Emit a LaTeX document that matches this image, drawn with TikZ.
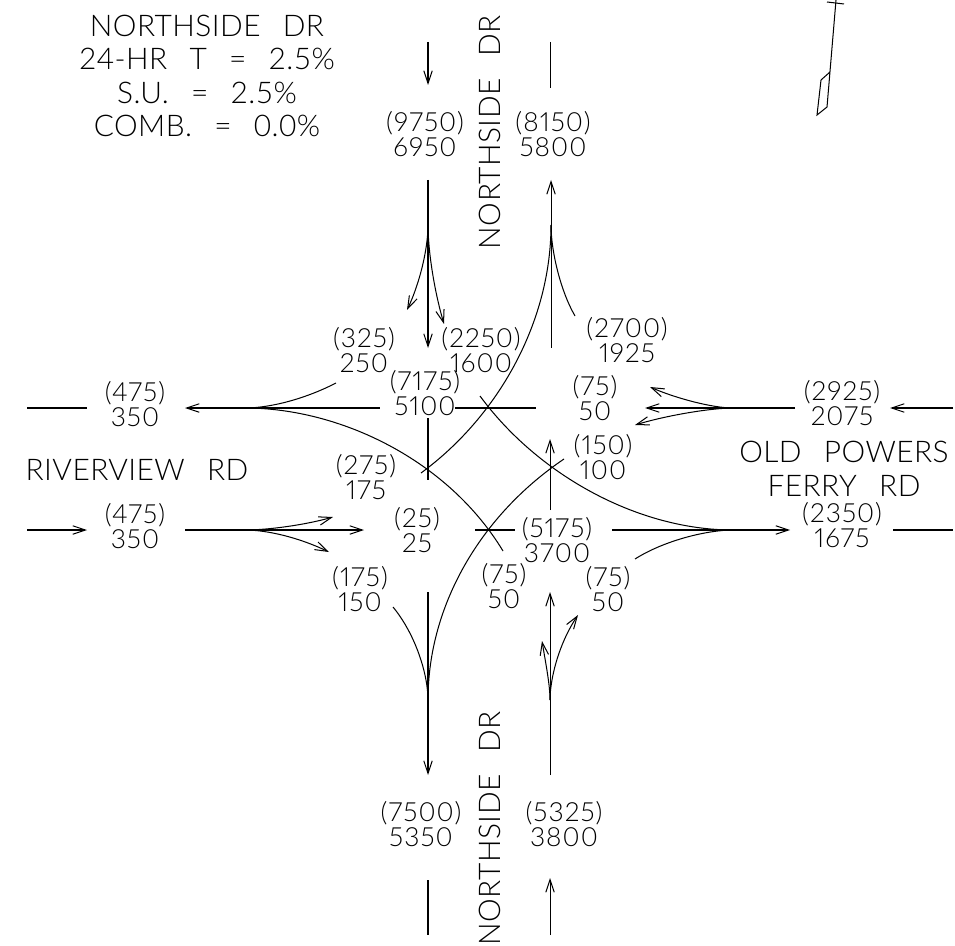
\documentclass[tikz,border=0pt]{standalone}
\usepackage{fontspec}
\setmainfont{Lato Light}
\newfontfamily\volfont[LetterSpace=4,Numbers=Proportional]{Lato Light}
\newfontfamily\lblfont[LetterSpace=1.5,WordSpace=2.6]{Lato Light}
\usetikzlibrary{arrows.meta}

\begin{document}
\begin{tikzpicture}[
  x=0.02cm, y=-0.02cm,
  >={Straight Barb[length=7.2pt,width=4.8pt]},
  road/.style={line width=0.58pt, color=black},
  vol/.style={align=center, inner sep=0pt, font=\volfont\fontsize{15}{14.2}\selectfont},
  lbl/.style={align=center, inner sep=0pt, font=\lblfont\fontsize{17}{19}\selectfont},
]
\useasboundingbox (0,0) rectangle (955,945);

\node[lbl] (note) at (207,76) {NORTHSIDE DR\\24-HR T = 2.5\%\\S.U. = 2.5\%\\COMB. = 0.0\%};
\node[lbl, rotate=90] (nsdrtop) at (490,132) {NORTHSIDE DR};
\node[lbl, rotate=90] (nsdrbot) at (490,828) {NORTHSIDE DR};
\node[lbl] (river) at (137,470) {RIVERVIEW RD};
\node[lbl] (old) at (844,469) {OLD POWERS\\FERRY RD};

\node[vol] (sbin) at (425,134) {(9750)\\6950};
\node[vol] (nbout) at (553,134) {(8150)\\5800};
\node[vol] (sbr) at (364,350) {(325)\\250};
\node[vol] (sbl) at (481,350) {(2250)\\1600};
\node[vol] (sbt) at (425,393) {(7175)\\5100};
\node[vol] (wbr) at (627,340) {(2700)\\1925};
\node[vol] (wbt) at (595,398) {(75)\\50};
\node[vol] (wbl) at (603,457) {(150)\\100};
\node[vol] (wbin) at (842,403) {(2925)\\2075};
\node[vol] (wout) at (135,404) {(475)\\350};
\node[vol] (ebin) at (135,526) {(475)\\350};
\node[vol] (ebl) at (366,477) {(275)\\175};
\node[vol] (ebt) at (417,530) {(25)\\25};
\node[vol] (ebr) at (360,589) {(175)\\150};
\node[vol] (nbt) at (557,540) {(5175)\\3700};
\node[vol] (nbl) at (504,586) {(75)\\50};
\node[vol] (nbr) at (608,589) {(75)\\50};
\node[vol] (eout) at (842,525) {(2350)\\1675};
\node[vol] (sout) at (421,824) {(7500)\\5350};
\node[vol] (nbin) at (564,824) {(5325)\\3800};

\coordinate (a1) at (428,42);
\coordinate (a2) at (428,85);
\coordinate (b1) at (550,42);
\coordinate (b2) at (550,88);
\coordinate (sbtop) at (428,180);
\coordinate (sbfork) at (428,225);
\coordinate (sbend) at (428,348);
\coordinate (sbltip) at (407,310);
\coordinate (sbrtip) at (444,324);
\coordinate (nbtop) at (551,180);
\coordinate (nbfork) at (551,225);
\coordinate (nbcut) at (551,348);
\coordinate (rcut) at (575,316);
\coordinate (nwend) at (421,473);
\coordinate (c1) at (428,418);
\coordinate (c2) at (428,480);

\coordinate (wl1) at (27,408);
\coordinate (wl2) at (87,408);
\coordinate (wbtip) at (185,408);
\coordinate (wbfork) at (245,408);
\coordinate (wbcut) at (380,408);
\coordinate (wbcut2) at (455,408);
\coordinate (wbcut3) at (536,408);
\coordinate (rcut2) at (336,383);
\coordinate (swend) at (503,551);

\coordinate (er1) at (953,408);
\coordinate (er2) at (890,408);
\coordinate (er3) at (795,408);
\coordinate (erfork) at (733,408);
\coordinate (ertip) at (645,408);
\coordinate (ertip1) at (650,387);
\coordinate (ertip2) at (635,425);

\coordinate (el1) at (27,530);
\coordinate (el2) at (87,530);
\coordinate (ebstart) at (185,530);
\coordinate (ebfork) at (245,530);
\coordinate (ebtip) at (364,530);
\coordinate (ebtip1) at (333,517);
\coordinate (ebtip2) at (329,552);
\coordinate (m1) at (475,530);
\coordinate (m2) at (515,530);
\coordinate (eb1) at (612,530);
\coordinate (ebmerge) at (733,530);
\coordinate (eb2) at (790,530);
\coordinate (eb3) at (893,530);
\coordinate (eb4) at (953,530);
\coordinate (neend) at (480,396);
\coordinate (rcut3) at (635,559);

\coordinate (d1) at (550,510);
\coordinate (d2) at (550,439);
\coordinate (seend) at (564,459);
\coordinate (sbcut) at (428,592);
\coordinate (sbmerge) at (428,700);
\coordinate (sbtip) at (428,775);
\coordinate (rcut4) at (393,607);
\coordinate (nbstart) at (550,775);
\coordinate (nbfork2) at (550,700);
\coordinate (nbtip) at (550,592);
\coordinate (nbtip1) at (542,641);
\coordinate (nbtip2) at (578,615);
\coordinate (e1) at (428,880);
\coordinate (e2) at (428,935);
\coordinate (f1) at (550,935);
\coordinate (f2) at (550,878);

\coordinate (stem1) at (836,0);
\coordinate (stem2) at (827,107);
\coordinate (bar1) at (827,2);
\coordinate (bar2) at (844,4);
\coordinate (fin1) at (830,72);
\coordinate (fin2) at (821,80);
\coordinate (fin3) at (817,115);

\draw[road, ->] (a1) -- (a2);
\draw[road] (b1) -- (b2);
\draw[road, ->] (sbtop) -- (sbend);
\draw[road, ->] (sbfork) .. controls (428,250) and (419,285) .. (sbltip);
\draw[road, ->] (sbfork) .. controls (428,250) and (434,290) .. (sbrtip);
\draw[road, <-] (nbtop) -- (nbcut);
\draw[road] (nbfork) .. controls (551,250) and (560,290) .. (rcut);
\draw[road] (nbfork) .. controls (551,320) and (500,415) .. (nwend);
\draw[road] (c1) -- (c2);

\draw[road] (wl1) -- (wl2);
\draw[road, <-] (wbtip) -- (wbcut);
\draw[road] (wbcut2) -- (wbcut3);
\draw[road] (wbfork) .. controls (270,408) and (305,399) .. (rcut2);
\draw[road] (wbfork) .. controls (340,408) and (448,460) .. (swend);

\draw[road, ->] (er1) -- (er2);
\draw[road, ->] (er3) -- (ertip);
\draw[road, ->] (erfork) .. controls (712,408) and (675,398) .. (ertip1);
\draw[road, ->] (erfork) .. controls (712,408) and (668,415) .. (ertip2);

\draw[road, ->] (el1) -- (el2);
\draw[road, ->] (ebstart) -- (ebtip);
\draw[road, ->] (ebfork) .. controls (268,530) and (305,525) .. (ebtip1);
\draw[road, ->] (ebfork) .. controls (268,530) and (300,538) .. (ebtip2);
\draw[road] (m1) -- (m2);
\draw[road, ->] (eb1) -- (eb2);
\draw[road] (eb3) -- (eb4);
\draw[road] (ebmerge) .. controls (638,530) and (538,475) .. (neend);
\draw[road] (ebmerge) .. controls (708,530) and (665,540) .. (rcut3);

\draw[road, ->] (d1) -- (d2);
\draw[road] (sbmerge) .. controls (428,605) and (481,515) .. (seend);
\draw[road, ->] (sbcut) -- (sbtip);
\draw[road] (sbmerge) .. controls (428,675) and (416,635) .. (rcut4);
\draw[road, ->] (nbstart) -- (nbtip);
\draw[road, ->] (nbfork2) .. controls (550,685) and (546,665) .. (nbtip1);
\draw[road, ->] (nbfork2) .. controls (550,680) and (558,645) .. (nbtip2);
\draw[road] (e1) -- (e2);
\draw[road, ->] (f1) -- (f2);

\draw[road] (stem1) -- (stem2) -- (fin3) -- (fin2) -- (fin1);
\draw[road] (bar1) -- (bar2);

\end{tikzpicture}
\end{document}
